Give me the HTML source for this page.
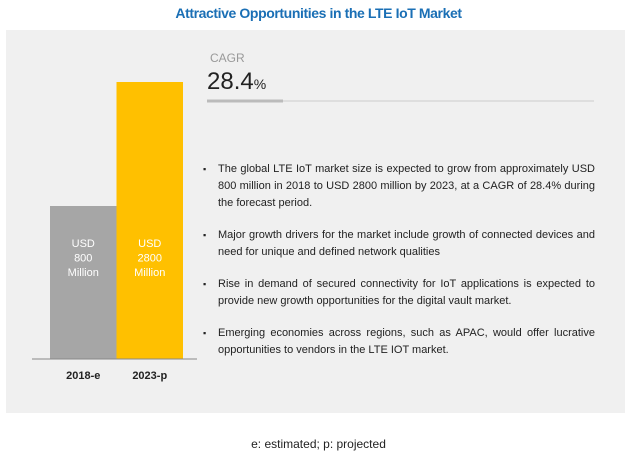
<!DOCTYPE html>
<html><head><meta charset="utf-8"><style>
body{margin:0;width:637px;height:456px;background:#fff;font-family:"Liberation Sans",sans-serif;position:relative;overflow:hidden}
.a{position:absolute}
#title{left:0;width:637px;top:5px;text-align:center;color:#1a6fb5;font-weight:bold;font-size:14px;letter-spacing:-0.4px}
#panel{left:6px;top:30px;width:619px;height:383px;background:#f0f0f0}
ul{position:absolute;left:203px;top:161px;width:392px;margin:0;padding:0;list-style:none;font-size:11px;color:#222;line-height:17px;text-align:justify}
li{position:relative;padding-left:15px;margin-bottom:15px}
li:before{content:"▪";position:absolute;left:0;font-size:9px}
</style></head><body>
<div id="title" class="a">Attractive Opportunities in the LTE IoT Market</div>
<div id="panel" class="a"></div>
<svg class="a" style="left:0;top:0" width="637" height="456">
<g id="bars"></g>
<line x1="32" y1="359" x2="197" y2="359" stroke="#888" stroke-width="1"/>
<text x="210" y="62" font-size="12" fill="#999">CAGR</text>
<text x="207" y="89" font-size="24" fill="#222">28.4<tspan font-size="14">%</tspan></text>
<line x1="207" y1="101" x2="594" y2="101" stroke="#ccc" stroke-width="1"/>
<line x1="207" y1="101" x2="283" y2="101" stroke="#bbb" stroke-width="3"/>
</svg>
<ul>
<li>The global LTE IoT market size is expected to grow from approximately USD 800 million in 2018 to USD 2800 million by 2023, at a CAGR of 28.4% during the forecast period.</li>
<li>Major growth drivers for the market include growth of connected devices and need for unique and defined network qualities</li>
<li>Rise in demand of secured connectivity for IoT applications is expected to provide new growth opportunities for the digital vault market.</li>
<li>Emerging economies across regions, such as APAC, would offer lucrative opportunities to vendors in the LTE IOT market.</li>
</ul>
<div class="a" style="left:0;width:637px;top:437px;text-align:center;font-size:12px;color:#222">e: estimated; p: projected</div>
<script>
const categories=["2018-e","2023-p"];
const values=[800,2800];
const valueLabels=["800","2800"];
const colors=["#a6a6a6","#ffc000"];
const base=359, x0=50, bw=66.5;
function yScale(v){return base-(103.4+0.062*v);}
function xScale(i){return x0+i*bw;}
const g=document.getElementById('bars');const NS="http://www.w3.org/2000/svg";
categories.forEach((c,i)=>{
 const r=document.createElementNS(NS,'rect');
 r.setAttribute('x',xScale(i));r.setAttribute('y',yScale(values[i]));
 r.setAttribute('width',bw);r.setAttribute('height',base-yScale(values[i]));r.setAttribute('fill',colors[i]);
 
 
 g.appendChild(r);
 const cx=xScale(i)+bw/2;
 ["USD",valueLabels[i],"Million"].forEach((s,k)=>{
  const t=document.createElementNS(NS,'text');
  t.setAttribute('x',cx);t.setAttribute('y',247+k*14.5);t.setAttribute('text-anchor','middle');
  t.setAttribute('font-size','11');t.setAttribute('fill','#fff');t.textContent=s;
  
  
  g.appendChild(t);
 });
 const l=document.createElementNS(NS,'text');
 l.setAttribute('x',cx);l.setAttribute('y',379);l.setAttribute('text-anchor','middle');
 l.setAttribute('font-size','11');l.setAttribute('font-weight','bold');l.setAttribute('fill','#222');l.textContent=c;
 
 
 g.appendChild(l);
});
</script>
</body></html>
